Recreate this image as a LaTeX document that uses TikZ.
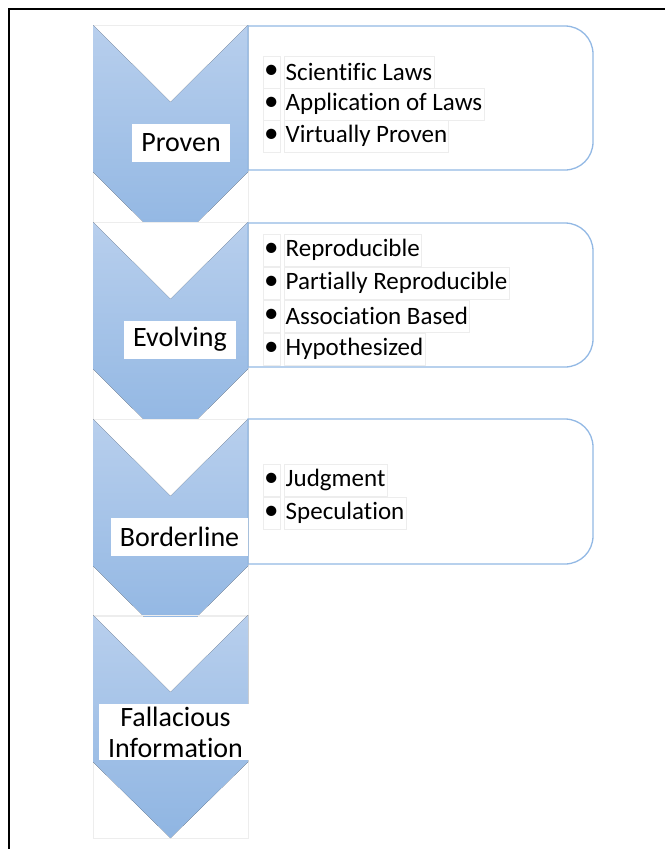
\documentclass[tikz,border=0pt]{standalone}
\usepackage{fontspec}
\setmainfont{Carlito}[Ligatures=NoCommon]
\usetikzlibrary{positioning}

\definecolor{chevtop}{RGB}{184,207,237}
\definecolor{chevbot}{RGB}{143,181,226}
\definecolor{boxline}{RGB}{146,184,228}

\begin{document}
\begin{tikzpicture}[x=1pt,y=-1pt,
  chev/.style={top color=chevtop, bottom color=chevbot},
  cell/.style={draw=black!7, line width=0.8pt},
  lab/.style={fill=white, font=\fontsize{28}{31}\selectfont, inner xsep=9pt, inner ysep=3pt, minimum height=38pt, align=center},
  item/.style={draw=black!7, font=\fontsize{25}{30}\selectfont, minimum height=32pt, inner xsep=1.5pt, anchor=west},
  bul/.style={draw=black!7, font=\fontsize{29}{30}\selectfont, minimum height=32pt, minimum width=17pt, inner sep=0pt},
  info/.style={draw=boxline, line width=1.3pt}]

  \useasboundingbox (0,0) rectangle (665,849);
  \draw[line width=2pt] (9,849) -- (9,9) -- (665,9);

  % chevrons
  \foreach \t in {25,222,419} {
    \draw[cell] (93,\t) rectangle (248,\t+197);
    \begin{scope}
      \clip (93,\t) rectangle (248,\t+197);
      \fill[chev] (93,\t) -- (170.5,\t+77) -- (248,\t) -- (248,\t+147)
        -- (170.5,\t+224) -- (93,\t+147) -- cycle;
    \end{scope}
  }
  \draw[cell] (93,615) rectangle (248,838);
  \fill[chev] (93,615) -- (170.5,692) -- (248,615) -- (248,762)
    -- (170.5,838) -- (93,762) -- cycle;

  % info boxes
  \foreach \t/\b in {26/170,223/367,419/564}
    \draw[info] (248,\t) -- (565,\t) .. controls (580.5,\t) and (593,\t+12.5) .. (593,\t+28)
      -- (593,\b-28) .. controls (593,\b-12.5) and (580.5,\b) .. (565,\b) -- (248,\b) -- cycle;

  \node[lab] (proven) at (181,143) {Proven};
  \node[lab] (evolving) at (180,339.5) {Evolving};
  \node[lab] (border) at (179.5,536.5) {Borderline};
  \node[lab] (fallac) at (175.5,732) {Fallacious\\Information};

  \node[item] (sci) at (284,72) {Scientific Laws};
  \node[item] (app) at (284,104) {Application of Laws};
  \node[item] (virt) at (284,136) {Virtually Proven};

  \node[item] (repr) at (284,250) {Reproducible};
  \node[item] (part) at (284,283) {Partially Reproducible};
  \node[item] (assoc) at (284,316) {Association Based};
  \node[item] (hypo) at (284,349) {Hypothesized};

  \node[item] (judg) at (284,480) {Judgment};
  \node[item] (spec) at (284,513) {Speculation};

  \foreach \n in {sci,app,virt,repr,part,assoc,hypo,judg,spec}
    \node[bul, left=4pt of \n] (\n-b) {\textbullet};

\end{tikzpicture}
\end{document}
